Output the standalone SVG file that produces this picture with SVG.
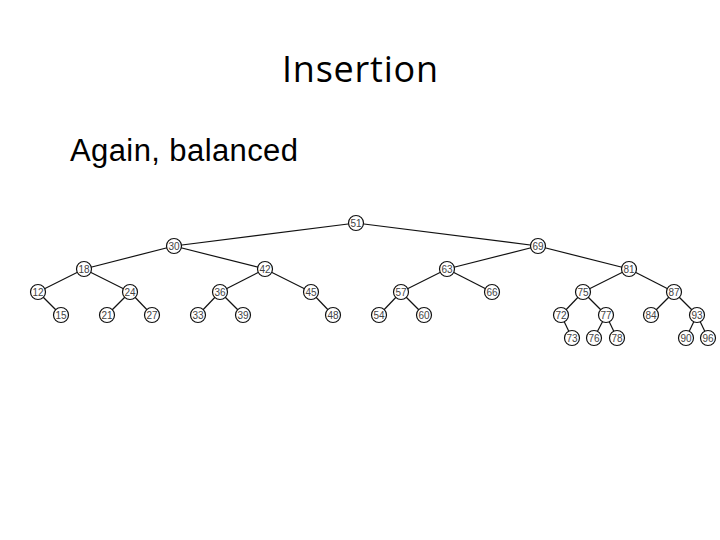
<svg xmlns="http://www.w3.org/2000/svg" width="720" height="540" viewBox="0 0 720 540">
<style>
.t{font-family:"Open Sans","Noto Sans",sans-serif;font-size:36px;fill:#000}
.s{font-family:"Liberation Sans",Arial,sans-serif;font-size:31px;fill:#000}
.n circle{fill:#fff;stroke:#111;stroke-width:1.2}
.n text{font-family:"Liberation Sans",Arial,sans-serif;font-size:10px;fill:#444;text-anchor:middle}
#edges line{stroke:#111;stroke-width:1.2}
</style>
<rect width="720" height="540" fill="#fff"/>
<text class="t" x="360" y="82" text-anchor="middle" textLength="156">Insertion</text>
<text class="s" x="70" y="161" textLength="228">Again, balanced</text>
<g id="edges">
<line x1="356" y1="223" x2="174" y2="246"/>
<line x1="356" y1="223" x2="538" y2="246"/>
<line x1="174" y1="246" x2="84" y2="269"/>
<line x1="174" y1="246" x2="265" y2="269"/>
<line x1="538" y1="246" x2="447" y2="269"/>
<line x1="538" y1="246" x2="629" y2="269"/>
<line x1="84" y1="269" x2="38" y2="292"/>
<line x1="84" y1="269" x2="130" y2="292"/>
<line x1="265" y1="269" x2="220" y2="292"/>
<line x1="265" y1="269" x2="311" y2="292"/>
<line x1="447" y1="269" x2="401" y2="292"/>
<line x1="447" y1="269" x2="492" y2="292"/>
<line x1="629" y1="269" x2="583" y2="292"/>
<line x1="629" y1="269" x2="674" y2="292"/>
<line x1="38" y1="292" x2="61" y2="315"/>
<line x1="130" y1="292" x2="107" y2="315"/>
<line x1="130" y1="292" x2="152" y2="315"/>
<line x1="220" y1="292" x2="198" y2="315"/>
<line x1="220" y1="292" x2="243" y2="315"/>
<line x1="311" y1="292" x2="333" y2="315"/>
<line x1="401" y1="292" x2="379" y2="315"/>
<line x1="401" y1="292" x2="424" y2="315"/>
<line x1="583" y1="292" x2="561" y2="315"/>
<line x1="583" y1="292" x2="606" y2="315"/>
<line x1="674" y1="292" x2="651" y2="315"/>
<line x1="674" y1="292" x2="697" y2="315"/>
<line x1="561" y1="315" x2="572" y2="338"/>
<line x1="606" y1="315" x2="594" y2="338"/>
<line x1="606" y1="315" x2="617" y2="338"/>
<line x1="697" y1="315" x2="686" y2="338"/>
<line x1="697" y1="315" x2="708" y2="338"/>
</g>
<g id="n51" class="n"><circle cx="356" cy="223" r="7.5"/><text x="356" y="226.5">51</text></g>
<g id="n30" class="n"><circle cx="174" cy="246" r="7.5"/><text x="174" y="249.5">30</text></g>
<g id="n69" class="n"><circle cx="538" cy="246" r="7.5"/><text x="538" y="249.5">69</text></g>
<g id="n18" class="n"><circle cx="84" cy="269" r="7.5"/><text x="84" y="272.5">18</text></g>
<g id="n42" class="n"><circle cx="265" cy="269" r="7.5"/><text x="265" y="272.5">42</text></g>
<g id="n63" class="n"><circle cx="447" cy="269" r="7.5"/><text x="447" y="272.5">63</text></g>
<g id="n81" class="n"><circle cx="629" cy="269" r="7.5"/><text x="629" y="272.5">81</text></g>
<g id="n12" class="n"><circle cx="38" cy="292" r="7.5"/><text x="38" y="295.5">12</text></g>
<g id="n24" class="n"><circle cx="130" cy="292" r="7.5"/><text x="130" y="295.5">24</text></g>
<g id="n36" class="n"><circle cx="220" cy="292" r="7.5"/><text x="220" y="295.5">36</text></g>
<g id="n45" class="n"><circle cx="311" cy="292" r="7.5"/><text x="311" y="295.5">45</text></g>
<g id="n57" class="n"><circle cx="401" cy="292" r="7.5"/><text x="401" y="295.5">57</text></g>
<g id="n66" class="n"><circle cx="492" cy="292" r="7.5"/><text x="492" y="295.5">66</text></g>
<g id="n75" class="n"><circle cx="583" cy="292" r="7.5"/><text x="583" y="295.5">75</text></g>
<g id="n87" class="n"><circle cx="674" cy="292" r="7.5"/><text x="674" y="295.5">87</text></g>
<g id="n15" class="n"><circle cx="61" cy="315" r="7.5"/><text x="61" y="318.5">15</text></g>
<g id="n21" class="n"><circle cx="107" cy="315" r="7.5"/><text x="107" y="318.5">21</text></g>
<g id="n27" class="n"><circle cx="152" cy="315" r="7.5"/><text x="152" y="318.5">27</text></g>
<g id="n33" class="n"><circle cx="198" cy="315" r="7.5"/><text x="198" y="318.5">33</text></g>
<g id="n39" class="n"><circle cx="243" cy="315" r="7.5"/><text x="243" y="318.5">39</text></g>
<g id="n48" class="n"><circle cx="333" cy="315" r="7.5"/><text x="333" y="318.5">48</text></g>
<g id="n54" class="n"><circle cx="379" cy="315" r="7.5"/><text x="379" y="318.5">54</text></g>
<g id="n60" class="n"><circle cx="424" cy="315" r="7.5"/><text x="424" y="318.5">60</text></g>
<g id="n72" class="n"><circle cx="561" cy="315" r="7.5"/><text x="561" y="318.5">72</text></g>
<g id="n77" class="n"><circle cx="606" cy="315" r="7.5"/><text x="606" y="318.5">77</text></g>
<g id="n84" class="n"><circle cx="651" cy="315" r="7.5"/><text x="651" y="318.5">84</text></g>
<g id="n93" class="n"><circle cx="697" cy="315" r="7.5"/><text x="697" y="318.5">93</text></g>
<g id="n73" class="n"><circle cx="572" cy="338" r="7.5"/><text x="572" y="341.5">73</text></g>
<g id="n76" class="n"><circle cx="594" cy="338" r="7.5"/><text x="594" y="341.5">76</text></g>
<g id="n78" class="n"><circle cx="617" cy="338" r="7.5"/><text x="617" y="341.5">78</text></g>
<g id="n90" class="n"><circle cx="686" cy="338" r="7.5"/><text x="686" y="341.5">90</text></g>
<g id="n96" class="n"><circle cx="708" cy="338" r="7.5"/><text x="708" y="341.5">96</text></g>
</svg>
